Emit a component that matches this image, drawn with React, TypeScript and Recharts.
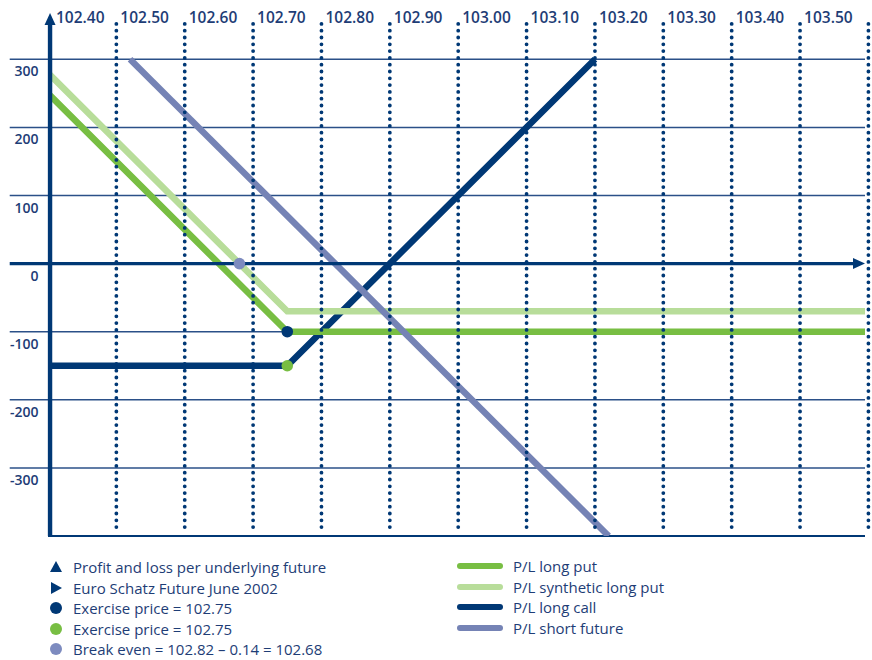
import { LineChart, Line, XAxis, YAxis, ReferenceLine, ReferenceDot } from 'recharts'

const NAVY = '#003875'
const GREEN = '#78be43'
const LIGHT_GREEN = '#b8dd9a'
const GREY_BLUE = '#7583b5'
const DOT_BLUE = '#7d8bbf'
const TEXT = '#1e3d76'

// futures price ticks along the top, P/L ticks on the left
const xTicks = [102.4, 102.5, 102.6, 102.7, 102.8, 102.9, 103.0, 103.1, 103.2, 103.3, 103.4, 103.5]
const dottedLines = [102.5, 102.6, 102.7, 102.8, 102.9, 103.0, 103.1, 103.2, 103.3, 103.4, 103.5, 103.6]
const yTicks = [300, 200, 100, 0, -100, -200, -300]
const gridValues = [300, 200, 100, -100, -200, -300]

// P/L lines: [price, profit/loss]
const longPut = [
  { x: 102.4, y: 250 },
  { x: 102.75, y: -100 },
  { x: 103.595, y: -100 }
]
const syntheticLongPut = [
  { x: 102.4, y: 280 },
  { x: 102.75, y: -70 },
  { x: 103.595, y: -70 }
]
const longCall = [
  { x: 102.4, y: -150 },
  { x: 102.75, y: -150 },
  { x: 103.2, y: 300 }
]
const shortFuture = [
  { x: 102.52, y: 300 },
  { x: 103.22, y: -400 }
]

const exerciseCall = { x: 102.75, y: -100 }
const exercisePut = { x: 102.75, y: -150 }
const breakEven = { x: 102.68, y: 0 }

const X_DOMAIN: [number, number] = [102.4, 103.595]
const Y_DOMAIN: [number, number] = [-400, 368]
const GRID_LEFT = 102.344

const leftLegend = [
  { icon: 'up', color: NAVY, label: 'Profit and loss per underlying future' },
  { icon: 'right', color: NAVY, label: 'Euro Schatz Future June 2002' },
  { icon: 'dot', color: NAVY, label: 'Exercise price = 102.75' },
  { icon: 'dot', color: GREEN, label: 'Exercise price = 102.75' },
  { icon: 'dot', color: DOT_BLUE, label: 'Break even = 102.82 – 0.14 = 102.68' }
]
const rightLegend = [
  { color: GREEN, label: 'P/L long put' },
  { color: LIGHT_GREEN, label: 'P/L synthetic long put' },
  { color: NAVY, label: 'P/L long call' },
  { color: GREY_BLUE, label: 'P/L short future' }
]

const FONT = '"Open Sans", "Noto Sans", sans-serif'

function TopTick(props: any) {
  const { x, payload, index } = props
  return (
    <text x={x + (index === 0 ? 8 : 4)} y={23} fill={TEXT} fontSize={15.5} fontWeight={600} fontFamily={FONT}>
      {Number(payload.value).toFixed(2)}
    </text>
  )
}

function LeftTick(props: any) {
  const { y, payload } = props
  return (
    <text x={38.5} y={y + 17} textAnchor="end" fill={TEXT} fontSize={14} fontWeight={600} fontFamily={FONT}>
      {payload.value}
    </text>
  )
}

const upArrow = (p: any) => (
  <path d={`M${p.cx},${p.cy} L${p.cx + 5.5},${p.cy + 12} L${p.cx - 5.5},${p.cy + 12} Z`} fill={NAVY} />
)
const rightArrow = (p: any) => (
  <path d={`M${p.cx},${p.cy} L${p.cx - 12},${p.cy - 5.5} L${p.cx - 12},${p.cy + 5.5} Z`} fill={NAVY} />
)
const dotShape = (color: string) => (p: any) => <circle cx={p.cx} cy={p.cy} r={5.8} fill={color} />

function LegendIcon({ icon, color }: { icon: string; color: string }) {
  return (
    <svg width={14} height={14} style={{ position: 'absolute', left: 49, top: 3 }}>
      {icon === 'up' && <path d="M7,1 L13,12 L1,12 Z" fill={color} />}
      {icon === 'right' && <path d="M13,7 L2,1 L2,13 Z" fill={color} />}
      {icon === 'dot' && <circle cx={7} cy={7} r={6} fill={color} />}
    </svg>
  )
}

export default function App() {
  const leftRows = [567, 587.5, 608, 628.5, 649]
  const rightRows = [566, 586.5, 607, 627.5]
  return (
    <div style={{ position: 'absolute', left: 0, top: 0, width: 872, height: 660, background: '#fff', fontFamily: FONT }}>
      <LineChart width={872} height={546} margin={{ top: 0, right: 7, bottom: 10, left: 0 }}>
        <XAxis
          type="number"
          dataKey="x"
          orientation="top"
          domain={X_DOMAIN}
          allowDataOverflow
          ticks={xTicks}
          height={13}
          axisLine={false}
          tickLine={false}
          tick={TopTick}
          interval={0}
        />
        <YAxis
          type="number"
          dataKey="y"
          domain={Y_DOMAIN}
          allowDataOverflow
          ticks={yTicks}
          width={48}
          axisLine={false}
          tickLine={false}
          tick={LeftTick}
          interval={0}
        />
        {gridValues.map((v) => (
          <ReferenceLine
            key={`g${v}`}
            segment={[{ x: GRID_LEFT, y: v }, { x: X_DOMAIN[1], y: v }]}
            stroke="#2b5088"
            strokeWidth={1.5}
            ifOverflow="visible"
            zIndex={100}
          />
        ))}
        <ReferenceLine
          segment={[{ x: 102.4, y: Y_DOMAIN[0] }, { x: X_DOMAIN[1], y: Y_DOMAIN[0] }]}
          stroke={NAVY}
          strokeWidth={2}
          ifOverflow="visible"
          zIndex={100}
        />
        <Line data={longCall} dataKey="y" stroke={NAVY} strokeWidth={6.5} dot={false} activeDot={false} isAnimationActive={false} />
        <Line data={longPut} dataKey="y" stroke={GREEN} strokeWidth={6.5} dot={false} activeDot={false} isAnimationActive={false} />
        <Line data={syntheticLongPut} dataKey="y" stroke={LIGHT_GREEN} strokeWidth={6.5} dot={false} activeDot={false} isAnimationActive={false} />
        <Line data={shortFuture} dataKey="y" stroke={GREY_BLUE} strokeWidth={6.5} dot={false} activeDot={false} isAnimationActive={false} />

        {dottedLines.map((v) => (
          <ReferenceLine
            key={`d${v}`}
            segment={[{ x: v, y: 352 }, { x: v, y: -393 }]}
            stroke={NAVY}
            strokeWidth={3.8}
            strokeDasharray="0 6.8"
            strokeLinecap="round"
            ifOverflow="visible"
            zIndex={500}
          />
        ))}
        <ReferenceLine
          segment={[{ x: GRID_LEFT, y: 0 }, { x: 103.578, y: 0 }]}
          stroke={NAVY}
          strokeWidth={3.3}
          ifOverflow="visible"
          zIndex={500}
        />
        <ReferenceLine
          segment={[{ x: 102.403, y: Y_DOMAIN[0] }, { x: 102.403, y: 351 }]}
          stroke={NAVY}
          strokeWidth={4.4}
          ifOverflow="visible"
          zIndex={500}
        />
        <ReferenceDot x={102.403} y={Y_DOMAIN[1]} shape={upArrow} ifOverflow="visible" zIndex={600} />
        <ReferenceDot x={X_DOMAIN[1]} y={0} shape={rightArrow} ifOverflow="visible" zIndex={600} />
        <ReferenceDot x={exerciseCall.x} y={exerciseCall.y} shape={dotShape(NAVY)} ifOverflow="visible" zIndex={600} />
        <ReferenceDot x={exercisePut.x} y={exercisePut.y} shape={dotShape(GREEN)} ifOverflow="visible" zIndex={600} />
        <ReferenceDot x={breakEven.x} y={breakEven.y} shape={dotShape(DOT_BLUE)} ifOverflow="visible" zIndex={600} />
      </LineChart>

      {leftLegend.map((item, i) => (
        <div key={`l${i}`} style={{ position: 'absolute', left: 0, top: leftRows[i] - 10, height: 20, width: 420 }}>
          <LegendIcon icon={item.icon} color={item.color} />
          <span style={{ position: 'absolute', left: 73, top: 0, lineHeight: '20px', fontSize: 15, color: TEXT, whiteSpace: 'nowrap' }}>
            {item.label}
          </span>
        </div>
      ))}
      {rightLegend.map((item, i) => (
        <div key={`r${i}`} style={{ position: 'absolute', left: 0, top: rightRows[i] - 10, height: 20, width: 872 }}>
          <div style={{ position: 'absolute', left: 457, top: 7, width: 46, height: 6, borderRadius: 3, background: item.color }} />
          <span style={{ position: 'absolute', left: 513, top: 0, lineHeight: '20px', fontSize: 15, color: TEXT, whiteSpace: 'nowrap' }}>
            {item.label}
          </span>
        </div>
      ))}
    </div>
  )
}
